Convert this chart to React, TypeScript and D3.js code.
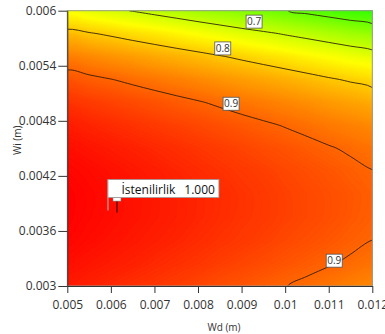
import React, { useEffect, useRef } from 'react';
import * as d3 from 'd3';

// grid columns (Wd, m) and rows (Wi, m) of the desirability surface
const wdValues = [0.005, 0.0055, 0.006, 0.0065, 0.007, 0.0075, 0.008, 0.0085, 0.009, 0.0095, 0.01, 0.0105, 0.011, 0.0115, 0.012];
const wiValues = [0.003, 0.00325, 0.0035, 0.00375, 0.004, 0.00425, 0.0045, 0.00475, 0.005, 0.00525, 0.0055, 0.00575, 0.006];

// desirability, one row per Wi value (bottom to top)
const desirabilityGrid: number[][] = [
  [0.974, 0.968, 0.961, 0.954, 0.947, 0.940, 0.932, 0.924, 0.917, 0.909, 0.901, 0.892, 0.884, 0.875, 0.866],
  [0.986, 0.980, 0.974, 0.968, 0.961, 0.954, 0.948, 0.940, 0.933, 0.926, 0.918, 0.911, 0.903, 0.895, 0.887],
  [0.995, 0.989, 0.983, 0.977, 0.971, 0.965, 0.958, 0.951, 0.945, 0.938, 0.930, 0.923, 0.916, 0.908, 0.900],
  [0.999, 0.993, 0.988, 0.982, 0.976, 0.970, 0.964, 0.957, 0.950, 0.944, 0.937, 0.930, 0.923, 0.915, 0.907],
  [0.999, 0.994, 0.988, 0.982, 0.976, 0.970, 0.964, 0.958, 0.951, 0.944, 0.937, 0.930, 0.923, 0.916, 0.908],
  [0.995, 0.990, 0.984, 0.978, 0.972, 0.965, 0.959, 0.952, 0.945, 0.939, 0.931, 0.924, 0.917, 0.909, 0.901],
  [0.986, 0.980, 0.974, 0.968, 0.961, 0.955, 0.948, 0.941, 0.934, 0.926, 0.919, 0.911, 0.903, 0.895, 0.887],
  [0.972, 0.965, 0.958, 0.951, 0.944, 0.937, 0.930, 0.922, 0.914, 0.906, 0.898, 0.890, 0.881, 0.873, 0.864],
  [0.950, 0.942, 0.935, 0.927, 0.919, 0.911, 0.903, 0.894, 0.885, 0.877, 0.868, 0.859, 0.849, 0.840, 0.830],
  [0.918, 0.909, 0.901, 0.892, 0.883, 0.874, 0.865, 0.855, 0.845, 0.836, 0.826, 0.816, 0.805, 0.795, 0.784],
  [0.874, 0.865, 0.855, 0.845, 0.834, 0.824, 0.814, 0.803, 0.792, 0.781, 0.770, 0.758, 0.747, 0.735, 0.723],
  [0.815, 0.804, 0.793, 0.781, 0.770, 0.758, 0.746, 0.734, 0.721, 0.709, 0.696, 0.684, 0.671, 0.658, 0.644],
  [0.737, 0.724, 0.711, 0.698, 0.685, 0.672, 0.658, 0.644, 0.630, 0.616, 0.602, 0.587, 0.573, 0.558, 0.543],
];

const xTicks = [0.005, 0.006, 0.007, 0.008, 0.009, 0.01, 0.011, 0.012];
const yTicks = [0.003, 0.0036, 0.0042, 0.0048, 0.0054, 0.006];
const contourLevels = [0.6, 0.7, 0.8, 0.9];

const contourLabelText = ['0.7', '0.8', '0.9', '0.9'];
const contourLabelWd = [0.009287, 0.008568, 0.008759, 0.011126];
const contourLabelWi = [0.005881, 0.005589, 0.004986, 0.003276];

const optimumWd = 0.00614;
const optimumWi = 0.0038;
const optimumName = 'İstenilirlik';
const optimumValue = '1.000';

const FONT = '"Open Sans", "Noto Sans", sans-serif';

const App: React.FC = () => {
  const svgRef = useRef<SVGSVGElement>(null);

  useEffect(() => {
    const svg = d3.select(svgRef.current);
    svg.selectAll('*').remove();

    const width = 385;
    const height = 334;
    const x = d3.scaleLinear().domain([0.005, 0.012]).range([67.3, 372.3]);
    const y = d3.scaleLinear().domain([0.003, 0.006]).range([286, 10.7]);
    const [x0, x1] = x.range();
    const [y0, y1] = y.range();

    svg.attr('width', width).attr('height', height);

    const color = (d: number) => d3.hsl(240 * (1 - d), 1, 0.5).toString();

    svg.append('clipPath')
      .attr('id', 'plot-clip')
      .append('rect')
      .attr('x', x0)
      .attr('y', y1)
      .attr('width', x1 - x0)
      .attr('height', y0 - y1);

    // flatten grid for d3.contours
    const nx = wdValues.length;
    const ny = wiValues.length;
    const values: number[] = [];
    desirabilityGrid.forEach(row => row.forEach(v => values.push(v)));

    const stepX = wdValues[1] - wdValues[0];
    const stepY = wiValues[1] - wiValues[0];
    // grid coords -> pixels (sample i sits at i + 0.5)
    const toPx = (p: number[]): [number, number] => [
      x(wdValues[0] + (p[0] - 0.5) * stepX),
      y(wiValues[0] + (p[1] - 0.5) * stepY)
    ];
    const ringLine = d3.line().curve(d3.curveCatmullRomClosed.alpha(0.5));
    const smoothPath = (mp: d3.ContourMultiPolygon) =>
      mp.coordinates
        .map(poly => poly.map(ring => ringLine(ring.slice(0, -1).map(toPx)) || '').join(''))
        .join('');

    const plot = svg.append('g').attr('clip-path', 'url(#plot-clip)');

    // Filled gradient (many thin bands)
    const bandStep = 0.0025;
    const bandThresholds = d3.range(0.5, 1.0, bandStep);
    plot.append('rect')
      .attr('x', x0)
      .attr('y', y1)
      .attr('width', x1 - x0)
      .attr('height', y0 - y1)
      .attr('fill', color(0.5));

    const bands = d3.contours().size([nx, ny]).thresholds(bandThresholds)(values);
    plot.selectAll('.band')
      .data(bands)
      .enter().append('path')
      .attr('class', 'band')
      .attr('d', d => smoothPath(d))
      .attr('fill', d => color(Math.min(1, d.value + bandStep / 2)))
      .attr('stroke', d => color(Math.min(1, d.value + bandStep / 2)))
      .attr('stroke-width', 0.6);

    // Contour lines
    const lines = d3.contours().size([nx, ny]).thresholds(contourLevels)(values);
    plot.selectAll('.iso')
      .data(lines)
      .enter().append('path')
      .attr('class', 'iso')
      .attr('d', d => smoothPath(d))
      .attr('fill', 'none')
      .attr('stroke', '#2a1a0a')
      .attr('stroke-opacity', 0.85)
      .attr('stroke-width', 1);

    // Contour labels
    const lab = svg.append('g').selectAll('.clabel')
      .data(contourLabelText)
      .enter().append('g')
      .attr('class', 'clabel')
      .attr('transform', (d, i) => `translate(${x(contourLabelWd[i])},${y(contourLabelWi[i])})`);
    lab.append('rect')
      .attr('x', -8)
      .attr('y', -6.5)
      .attr('width', 16)
      .attr('height', 13)
      .attr('fill', '#fff')
      .attr('stroke', '#555')
      .attr('stroke-width', 0.8);
    lab.append('text')
      .attr('text-anchor', 'middle')
      .attr('dy', '0.36em')
      .attr('font-size', 10)
      .attr('font-family', FONT)
      .attr('fill', '#333')
      .text(d => d);

    // Plot frame
    svg.append('rect')
      .attr('x', x0)
      .attr('y', y1)
      .attr('width', x1 - x0)
      .attr('height', y0 - y1)
      .attr('fill', 'none')
      .attr('stroke', '#999')
      .attr('stroke-width', 1);

    // Axes
    const xAxis = svg.append('g')
      .attr('transform', `translate(0,${y0})`)
      .call(d3.axisBottom(x).tickValues(xTicks).tickSize(7).tickSizeOuter(0).tickPadding(7).tickFormat(d => String(d)));
    const yAxis = svg.append('g')
      .attr('transform', `translate(${x0},0)`)
      .call(d3.axisLeft(y).tickValues(yTicks).tickSize(9).tickSizeOuter(0).tickPadding(2).tickFormat(d => String(d)));
    [xAxis, yAxis].forEach(ax => {
      ax.attr('font-family', FONT).attr('font-size', 12);
      ax.selectAll('text').attr('fill', '#333');
      ax.selectAll('line').attr('stroke', '#333');
      ax.select('.domain').attr('stroke', '#333');
    });

    // Axis titles
    svg.append('text')
      .attr('x', 224)
      .attr('y', 331)
      .attr('text-anchor', 'middle')
      .attr('font-family', FONT)
      .attr('font-size', 10)
      .attr('fill', '#333')
      .text('Wd (m)');
    svg.append('text')
      .attr('transform', `translate(21,${(y0 + y1) / 2 - 8}) rotate(-90)`)
      .attr('text-anchor', 'middle')
      .attr('font-family', FONT)
      .attr('font-size', 10)
      .attr('fill', '#333')
      .text('Wi (m)');

    // Optimum flag
    const px = x(optimumWd);
    const py = y(optimumWi);
    const flag = svg.append('g');
    flag.append('line')
      .attr('x1', px - 9).attr('x2', px - 9)
      .attr('y1', py - 33).attr('y2', py - 2)
      .attr('stroke', '#c9a4a4')
      .attr('stroke-width', 1.2);
    flag.append('line')
      .attr('x1', px).attr('x2', px)
      .attr('y1', py - 12).attr('y2', py)
      .attr('stroke', '#111')
      .attr('stroke-width', 1);
    flag.append('rect')
      .attr('x', px - 4).attr('y', py - 15)
      .attr('width', 8).attr('height', 3.5)
      .attr('fill', '#fff')
      .attr('stroke', '#777')
      .attr('stroke-width', 0.6);
    const box = flag.append('rect')
      .attr('x', px - 9).attr('y', py - 33)
      .attr('height', 18)
      .attr('fill', '#fff')
      .attr('stroke', '#999')
      .attr('stroke-width', 0.8);
    const nameText = flag.append('text')
      .attr('x', px + 4.5)
      .attr('y', py - 18.5)
      .attr('font-family', FONT)
      .attr('font-size', 12)
      .attr('fill', '#111')
      .text(optimumName);
    const nameW = (nameText.node() as SVGTextElement).getComputedTextLength();
    const valueText = flag.append('text')
      .attr('x', px + 4.5 + nameW + 9)
      .attr('y', py - 18.5)
      .attr('font-family', FONT)
      .attr('font-size', 12)
      .attr('fill', '#111')
      .text(optimumValue);
    const valueW = (valueText.node() as SVGTextElement).getComputedTextLength();
    box.attr('width', 13.5 + nameW + 9 + valueW + 4);
  }, []);

  return (
    <svg
      ref={svgRef}
      width={385}
      height={334}
      style={{ position: 'absolute', left: 0, top: 0, background: '#fff' }}
    />
  );
};

export default App;
